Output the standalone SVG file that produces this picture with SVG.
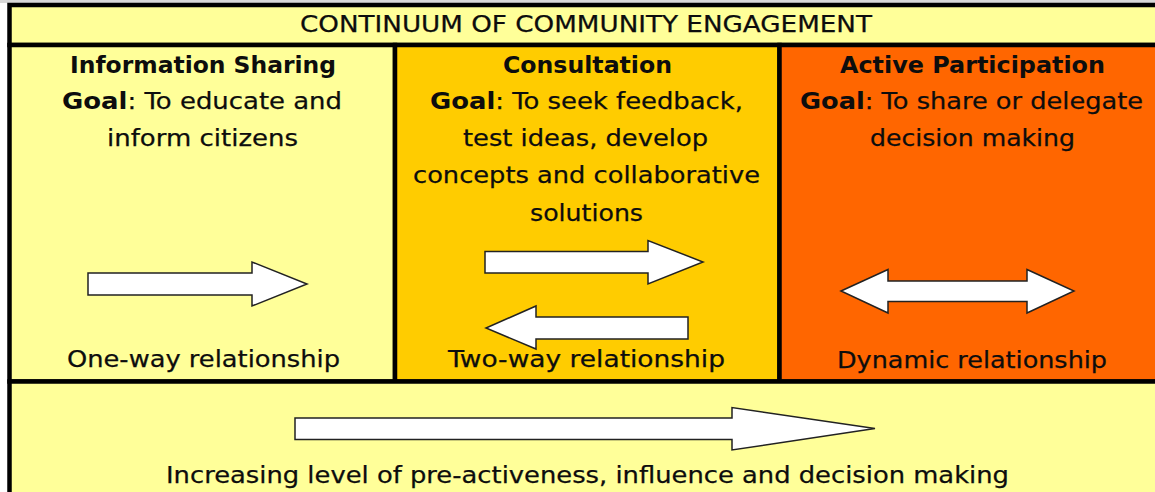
<svg xmlns="http://www.w3.org/2000/svg" width="1155" height="492" viewBox="0 0 1155 492">
<style>
  .t { font-family: "DejaVu Sans", "Liberation Sans", sans-serif; font-size: 23px; fill: #0d0d0d; stroke: #0d0d0d; stroke-width: 0.25; }
  .h { font-size: 23px; }
  .b { font-weight: bold; stroke-width: 0; }
  .frame { stroke: #000; stroke-width: 4.5; }
  .arrow { fill: #fff; stroke: #222; stroke-width: 1.5; stroke-linejoin: miter; }
</style>
<rect x="0" y="0" width="1155" height="492" fill="#fff"/>
<rect x="0" y="0" width="1155" height="3" fill="#d8d8d8"/>

<g id="header">
  <rect class="frame" x="9.5" y="5" width="1160" height="40" fill="#ffff99"/>
  <text class="t h" x="300" y="31.5" textLength="572" lengthAdjust="spacingAndGlyphs">CONTINUUM OF COMMUNITY ENGAGEMENT</text>
</g>

<g id="information-sharing">
  <rect class="frame" x="9.5" y="45" width="385.5" height="336.5" fill="#ffff99"/>
  <text class="t b" x="70" y="73" textLength="266" lengthAdjust="spacingAndGlyphs">Information Sharing</text>
  <text class="t" x="62" y="109" textLength="280" lengthAdjust="spacingAndGlyphs"><tspan class="b">Goal</tspan>: To educate and</text>
  <text class="t" x="107" y="146" textLength="191" lengthAdjust="spacingAndGlyphs">inform citizens</text>
  <polygon class="arrow" points="88,273 252,273 252,262 307,284 252,306 252,295 88,295"/>
  <text class="t" x="67" y="367" textLength="273" lengthAdjust="spacingAndGlyphs">One-way relationship</text>
</g>

<g id="consultation">
  <rect class="frame" x="395" y="45" width="384.5" height="336.5" fill="#ffcc00"/>
  <text class="t b" x="503" y="73" textLength="169" lengthAdjust="spacingAndGlyphs">Consultation</text>
  <text class="t" x="430" y="109" textLength="313" lengthAdjust="spacingAndGlyphs"><tspan class="b">Goal</tspan>: To seek feedback,</text>
  <text class="t" x="463" y="146" textLength="245" lengthAdjust="spacingAndGlyphs">test ideas, develop</text>
  <text class="t" x="413" y="183" textLength="347" lengthAdjust="spacingAndGlyphs">concepts and collaborative</text>
  <text class="t" x="530" y="220.5" textLength="113" lengthAdjust="spacingAndGlyphs">solutions</text>
  <polygon class="arrow" points="485,251.5 648,251.5 648,240.5 703,262 648,284 648,273 485,273"/>
  <polygon class="arrow" points="688,317 536,317 536,306 486,328 536,349 536,339 688,339"/>
  <text class="t" x="448" y="367" textLength="277" lengthAdjust="spacingAndGlyphs">Two-way relationship</text>
</g>

<g id="active-participation">
  <rect class="frame" x="779.5" y="45" width="390" height="336.5" fill="#ff6600"/>
  <text class="t b" x="840" y="73" textLength="265" lengthAdjust="spacingAndGlyphs">Active Participation</text>
  <text class="t" x="800" y="109" textLength="343" lengthAdjust="spacingAndGlyphs"><tspan class="b">Goal</tspan>: To share or delegate</text>
  <text class="t" x="870" y="146" textLength="205" lengthAdjust="spacingAndGlyphs">decision making</text>
  <polygon class="arrow" points="841,291 888,269.5 888,281 1027,281 1027,269.5 1074,291 1027,313 1027,301.5 888,301.5 888,313"/>
  <text class="t" x="837" y="368" textLength="270" lengthAdjust="spacingAndGlyphs">Dynamic relationship</text>
</g>

<g id="continuum">
  <rect class="frame" x="9.5" y="381.5" width="1160" height="130" fill="#ffff99"/>
  <polygon class="arrow" points="295,418 732,418 732,407.5 875,428.5 732,450 732,439.5 295,439.5"/>
  <text class="t" x="166" y="483" textLength="843" lengthAdjust="spacingAndGlyphs">Increasing level of pre-activeness, influence and decision making</text>
</g>

<g id="connectors"></g>
</svg>
